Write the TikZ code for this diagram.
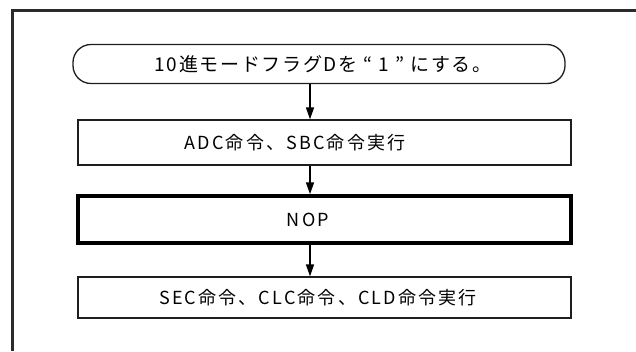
\documentclass[tikz,border=0pt]{standalone}
\usepackage{fontspec}
\setmainfont{Noto Sans CJK JP}
\newfontfamily\titlejp[LetterSpace=9]{Noto Sans CJK JP}
\newfontfamily\spacedjp[LetterSpace=12]{Noto Sans CJK JP}
\usetikzlibrary{arrows.meta}
\definecolor{frameline}{HTML}{2B2B2B}
\definecolor{boxline}{HTML}{1E1E1E}

\begin{document}
\begin{tikzpicture}[
  x=1pt, y=-1pt,
  termbox/.style={draw=boxline, rounded corners=18pt, minimum width=492pt, minimum height=39pt, line width=1.3pt, font=\titlejp\fontsize{19}{22}\selectfont},
  procbox/.style={draw=boxline, minimum width=493pt, line width=1.3pt, font=\spacedjp\fontsize{18}{21}\selectfont},
  arr/.style={-{Triangle[length=12pt,width=8pt]}, line width=1.5pt}
]
  \useasboundingbox (0,0) rectangle (636,351);
  % frame, cut at the right and bottom
  \draw[line width=3pt, frameline] (636,10) -- (12,10) -- (12,351);

  \node[termbox] (flagset) at (319,64) {\hspace*{8pt}10進モードフラグDを “ 1 ” にする。};
  \node[procbox, minimum height=45pt] (adcsbc) at (324.5,142.5) {ADC命令、SBC命令実行\hspace*{59pt}};
  \node[procbox, minimum height=47pt, draw=black, line width=3.5pt] (nop) at (324.5,219.5) {NOP\hspace*{33pt}};
  \node[procbox, minimum height=41pt] (secclc) at (324.5,297.5) {SEC命令、CLC命令、CLD命令実行\hspace*{13pt}};

  \coordinate (axis) at (310,0);
  \draw[arr] (flagset.south -| axis) -- (adcsbc.north -| axis);
  \draw[arr] (adcsbc.south -| axis) -- (nop.north -| axis);
  \draw[arr] (nop.south -| axis) -- (secclc.north -| axis);
\end{tikzpicture}
\end{document}
